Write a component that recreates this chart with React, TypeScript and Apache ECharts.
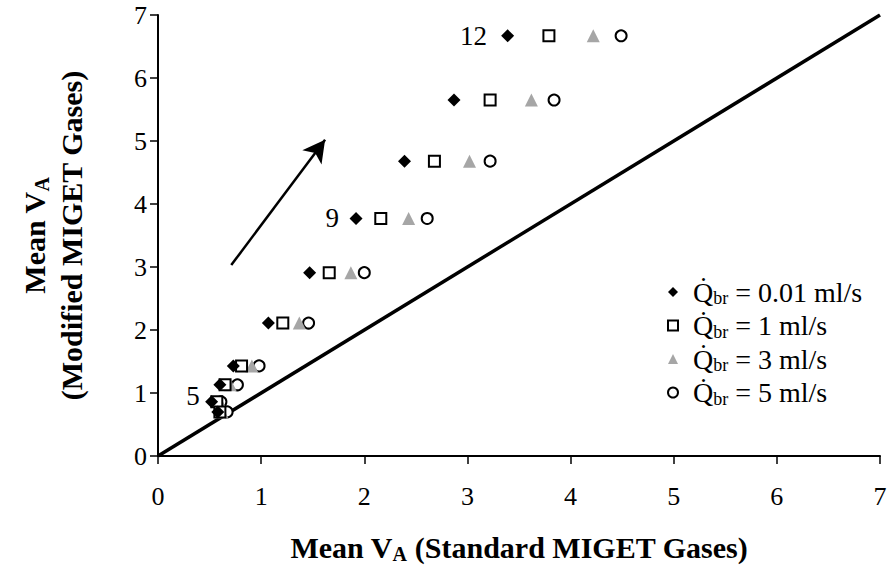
import React, { useEffect, useRef } from "react";
import * as echarts from "echarts";

// Each row: [y, xDiamond(0.01), xSquare(1), xTriangle(3), xCircle(5)]
const rowY = [6.67, 5.65, 4.68, 3.77, 2.91, 2.11, 1.43, 1.13, 0.86, 0.7];
const xQ001 = [3.39, 2.87, 2.39, 1.92, 1.47, 1.07, 0.73, 0.6, 0.52, 0.58];
const xQ1 = [3.79, 3.22, 2.68, 2.16, 1.66, 1.21, 0.81, 0.65, 0.57, 0.6];
const xQ3 = [4.22, 3.62, 3.02, 2.43, 1.87, 1.37, 0.91, 0.7, 0.6, 0.62];
const xQ5 = [4.49, 3.84, 3.22, 2.61, 2.0, 1.46, 0.98, 0.77, 0.61, 0.67];

const seriesNames = ["0.01", "1", "3", "5"];
const annotations: [string, number, number][] = [
  ["12", 3.06, 6.67],
  ["9", 1.69, 3.78],
  ["5", 0.34, 0.95],
];
const arrowFrom = [0.71, 3.03];
const arrowTo = [1.62, 5.02];
const ticks = [0, 1, 2, 3, 4, 5, 6, 7];

const FONT = "'Liberation Serif', 'Times New Roman', serif";

export default function App() {
  const ref = useRef<HTMLDivElement>(null);
  useEffect(() => {
    if (!ref.current) return;
    const chart = echarts.init(ref.current, undefined, { renderer: "svg" });
    const pts = (xs: number[]) => xs.map((x, i) => [x, rowY[i]]);
    const axisCommon = {
      type: "value" as const,
      min: ticks[0],
      max: ticks[ticks.length - 1],
      interval: 1,
      splitLine: { show: false },
      axisLine: { show: true, lineStyle: { color: "#000", width: 2 } },
      axisTick: { show: true, inside: false, length: 8, lineStyle: { color: "#000", width: 1.5 } },
    };
    chart.setOption({
      animation: false,
      backgroundColor: "#fff",
      textStyle: { fontFamily: FONT },
      grid: { left: 158, right: 10, top: 15, bottom: 113, containLabel: false, outerBoundsMode: "none" },
      xAxis: {
        ...axisCommon,
        axisLabel: { color: "#000", fontSize: 26, fontFamily: FONT, margin: 27 },
        name: "{b|Mean V}{bs|A}{b| (Standard MIGET Gases)}",
        nameLocation: "middle",
        nameGap: 74,
        nameTextStyle: {
          rich: {
            b: { fontFamily: FONT, fontWeight: "bold", fontSize: 30, color: "#000" },
            bs: { fontFamily: FONT, fontWeight: "bold", fontSize: 20, color: "#000", padding: [14, 0, 0, 0] },
          },
        },
      },
      yAxis: {
        ...axisCommon,
        axisLabel: { color: "#000", fontSize: 26, fontFamily: FONT, margin: 11 },
        name: "{b|Mean V}{bs|A}\n{b|(Modified MIGET Gases)}",
        nameLocation: "middle",
        nameRotate: 90,
        nameGap: 68,
        nameTextStyle: {
          lineHeight: 37,
          rich: {
            b: { fontFamily: FONT, fontWeight: "bold", fontSize: 30, color: "#000", lineHeight: 37 },
            bs: { fontFamily: FONT, fontWeight: "bold", fontSize: 20, color: "#000", padding: [14, 0, 0, 0], lineHeight: 37 },
          },
        },
      },
      legend: {
        data: seriesNames,
        orient: "vertical",
        left: 662,
        top: 273,
        itemGap: 4.5,
        itemWidth: 10,
        itemHeight: 10,
        selectedMode: false,
        formatter: (n: string) => `{q|Q̇}{s|br}{t| = ${n} ml/s}`,
        textStyle: {
          rich: {
            q: { fontFamily: FONT, fontSize: 28, color: "#000", padding: [0, 0, 0, 10] },
            s: { fontFamily: FONT, fontSize: 18, color: "#000", padding: [12, 0, 0, 0] },
            t: { fontFamily: FONT, fontSize: 28, color: "#000" },
          },
        },
      },
      series: [
        {
          name: "diag",
          type: "line",
          data: [[0, 0], [7, 7]],
          showSymbol: false,
          symbol: "none",
          silent: true,
          z: 1,
          lineStyle: { color: "#000", width: 3.5 },
          markLine: {
            silent: true,
            symbol: ["none", "arrow"],
            symbolSize: [18, 22],
            label: { show: false },
            lineStyle: { color: "#000", width: 2.5, type: "solid" },
            data: [[{ coord: arrowFrom }, { coord: arrowTo }]],
          },
        },
        {
          name: seriesNames[0],
          type: "scatter",
          symbol: "diamond",
          symbolSize: 13,
          itemStyle: { color: "#000", opacity: 1 },
          data: pts(xQ001),
          z: 5,
        },
        {
          name: seriesNames[1],
          type: "scatter",
          symbol: "rect",
          symbolSize: 11,
          itemStyle: { color: "#fff", borderColor: "#000", borderWidth: 2, opacity: 1 },
          data: pts(xQ1),
          z: 4,
        },
        {
          name: seriesNames[2],
          type: "scatter",
          symbol: "triangle",
          symbolSize: 13,
          itemStyle: { color: "#a6a6a6", opacity: 1 },
          data: pts(xQ3),
          z: 3,
        },
        {
          name: seriesNames[3],
          type: "scatter",
          symbol: "circle",
          symbolSize: 11,
          itemStyle: { color: "#fff", borderColor: "#000", borderWidth: 2, opacity: 1 },
          data: pts(xQ5),
          z: 2,
        },
        {
          name: "annot",
          type: "scatter",
          symbolSize: 1,
          itemStyle: { color: "transparent", opacity: 1 },
          silent: true,
          z: 6,
          data: annotations.map(([t, x, y]) => ({ name: t, value: [x, y] })),
          label: {
            show: true,
            position: "inside",
            formatter: (p: any) => p.name,
            color: "#000",
            opacity: 1,
            fontFamily: FONT,
            fontSize: 27,
          },
        },
      ],
    });
    return () => chart.dispose();
  }, []);
  return (
    <div
      ref={ref}
      style={{ position: "absolute", left: 0, top: 0, width: 890, height: 569 }}
    />
  );
}
